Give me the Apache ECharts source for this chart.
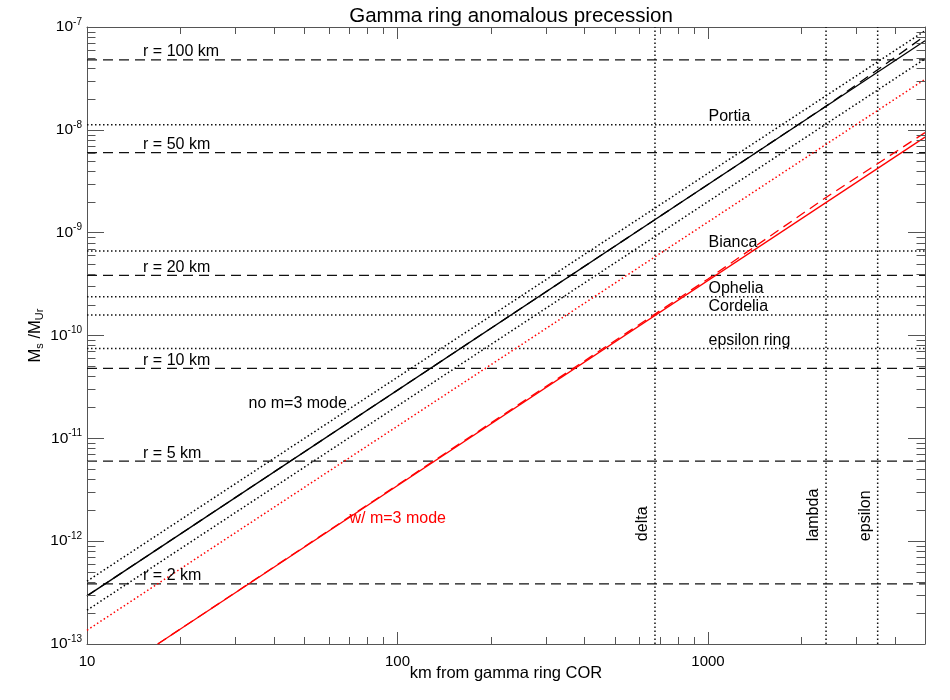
<!DOCTYPE html>
<html>
<head>
<meta charset="utf-8">
<style>
  html, body { margin: 0; padding: 0; background: #fff; }
  #chart { width: 950px; height: 700px; }
</style>
<script src="https://cdn.jsdelivr.net/npm/echarts@6/dist/echarts.min.js"></script>
</head>
<body>
<div id="chart"></div>
<script>
// axis extents
const xRange = [10, 5000]
const yRange = [1e-13, 1e-7]

// no m=3 mode curves (black)
const noModeX = [10, 5000]
const noModeSolid = [2.94e-13, 7.35e-8]
const noModeHigh = [4.08e-13, 9.2e-8]
const noModeLow = [2.13e-13, 4.9e-8]
const noModeDashX = [10, 1000, 2400, 3500, 5000]
const noModeDash = [2.94e-13, 2.94e-9, 1.7e-8, 3.8e-8, 8.2e-8]

// w/ m=3 mode curves (red)
const modeX = [16.9, 5000]
const modeSolid = [1e-13, 8.5e-9]
const modeDotX = [10, 5000]
const modeDot = [1.36e-13, 3.1e-8]
const modeDashX = [16.9, 1000, 2400, 5000]
const modeDash = [1e-13, 3.55e-10, 2.2e-9, 9.4e-9]

// moonlet radius levels (dashed)
const radiusNames = ['r = 100 km', 'r = 50 km', 'r = 20 km', 'r = 10 km', 'r = 5 km', 'r = 2 km']
const radiusMass = [4.8e-8, 6.0e-9, 3.85e-10, 4.8e-11, 6.0e-12, 3.85e-13]

// satellites / rings (dotted horizontal)
const moonNames = ['Portia', 'Bianca', 'Ophelia', 'Cordelia', 'epsilon ring']
const moonMass = [1.12e-8, 6.62e-10, 2.38e-10, 1.58e-10, 7.48e-11]

// ring distances (dotted vertical)
const ringNames = ['delta', 'lambda', 'epsilon']
const ringDist = [675, 2400, 3520]

const FONT = 'Liberation Sans'
const AXIS = '#555'

function pairs(xs, ys) {
  return xs.map((x, i) => [x, ys[i]])
}

// 2..9 x 10^n between lo and hi
function minorValues(lo, hi) {
  const out = []
  const e0 = Math.floor(Math.log10(lo))
  const e1 = Math.ceil(Math.log10(hi))
  for (let e = e0; e <= e1; e++) {
    for (let m = 2; m <= 9; m++) {
      const v = m * Math.pow(10, e)
      if (v > lo * 1.0001 && v < hi * 0.9999) out.push(v)
    }
  }
  return out
}

function curve(name, data, color, type, width) {
  return {
    name: name,
    type: 'line',
    data: data,
    showSymbol: false,
    symbol: 'none',
    clip: true,
    lineStyle: { color: color, width: width || 1.3, type: type },
    z: 3
  }
}

const DASH = [10, 6]
const DOT = [1.5, 2.5]

const series = []

// horizontal radius lines
radiusMass.forEach((v, i) => {
  series.push(curve(radiusNames[i], pairs(xRange, [v, v]), '#111', DASH))
})
// horizontal satellite lines
moonMass.forEach((v, i) => {
  series.push(curve(moonNames[i], pairs(xRange, [v, v]), '#111', DOT, 1.5))
})
// vertical ring lines
ringDist.forEach((d, i) => {
  series.push(curve(ringNames[i], pairs([d, d], yRange), '#111', DOT, 1.5))
})

// curves
series.push(curve('no m=3 high', pairs(noModeX, noModeHigh), '#000', DOT, 1.5))
series.push(curve('no m=3 low', pairs(noModeX, noModeLow), '#000', DOT, 1.5))
series.push(curve('no m=3 mode', pairs(noModeX, noModeSolid), '#000', 'solid'))
series.push(curve('no m=3 dash', pairs(noModeDashX, noModeDash), '#000', DASH))
series.push(curve('m=3 dot', pairs(modeDotX, modeDot), '#ff0000', DOT, 1.5))
series.push(curve('w/ m=3 mode', pairs(modeX, modeSolid), '#ff0000', 'solid'))
series.push(curve('m=3 dash', pairs(modeDashX, modeDash), '#ff0000', DASH))

// text annotations anchored in data space
const labelStyle = { fontFamily: FONT, fontSize: 16, color: '#000', opacity: 1, textBorderWidth: 0 }
function textSeries(items) {
  return {
    type: 'scatter',
    symbolSize: 1,
    itemStyle: { color: 'transparent' },
    silent: true,
    z: 5,
    data: items
  }
}

const radiusLabels = radiusMass.map((v, i) => ({
  value: [15.1, v],
  label: { show: true, formatter: radiusNames[i], position: 'right', distance: 0, offset: [0, -8], ...labelStyle }
}))
const moonLabels = moonMass.map((v, i) => ({
  value: [1000, v],
  label: { show: true, formatter: moonNames[i], position: 'right', distance: 0, offset: [0, -8], ...labelStyle }
}))
const ringLabels = ringDist.map((d, i) => ({
  value: [d, 1e-12],
  label: { show: true, formatter: ringNames[i], position: 'inside', rotate: 90, align: 'left', verticalAlign: 'middle', offset: [0, -12], ...labelStyle }
}))
const curveLabels = [
  { value: [33, 2.2e-11], label: { show: true, formatter: 'no m=3 mode', position: 'right', distance: 0, ...labelStyle } },
  { value: [69.8, 1.64e-12], label: { show: true, formatter: 'w/ m=3 mode', position: 'right', distance: 0, ...labelStyle, color: '#ff0000' } }
]
series.push(textSeries(radiusLabels.concat(moonLabels, ringLabels, curveLabels)))

// minor ticks on all four sides
const X_MINOR = 7
const Y_MINOR = 8.5
series.push({
  type: 'custom',
  silent: true,
  z: 6,
  data: minorValues(xRange[0], xRange[1]).map(v => [v, yRange[0]]),
  renderItem(params, api) {
    const cs = params.coordSys
    const x = Math.round(api.coord([api.value(0), yRange[0]])[0]) + 0.5
    const top = cs.y
    const bottom = cs.y + cs.height
    const st = { stroke: AXIS, lineWidth: 1 }
    return {
      type: 'group',
      children: [
        { type: 'line', shape: { x1: x, y1: bottom, x2: x, y2: bottom - X_MINOR }, style: st },
        { type: 'line', shape: { x1: x, y1: top, x2: x, y2: top + X_MINOR }, style: st }
      ]
    }
  }
})
series.push({
  type: 'custom',
  silent: true,
  z: 6,
  data: minorValues(yRange[0], yRange[1]).map(v => [xRange[0], v]),
  renderItem(params, api) {
    const cs = params.coordSys
    const y = Math.round(api.coord([xRange[0], api.value(1)])[1]) + 0.5
    const left = cs.x
    const right = cs.x + cs.width
    const st = { stroke: AXIS, lineWidth: 1 }
    return {
      type: 'group',
      children: [
        { type: 'line', shape: { x1: left, y1: y, x2: left + Y_MINOR, y2: y }, style: st },
        { type: 'line', shape: { x1: right, y1: y, x2: right - Y_MINOR, y2: y }, style: st }
      ]
    }
  }
})

function xAxisCfg(pos, showLabel) {
  return {
    type: 'log',
    logBase: 10,
    position: pos,
    min: xRange[0],
    max: xRange[1],
    name: showLabel ? 'km from gamma ring COR' : '',
    nameLocation: 'middle',
    nameGap: 21,
    nameMoveOverlap: false,
    nameTextStyle: { fontFamily: FONT, fontSize: 16.5, color: '#000' },
    axisLine: { show: true, onZero: false, lineStyle: { color: AXIS, width: 1 } },
    axisTick: { show: true, inside: true, length: 12, lineStyle: { color: AXIS } },
    axisLabel: {
      show: showLabel,
      margin: 10,
      fontFamily: FONT,
      fontSize: 15,
      color: '#000',
      showMinLabel: true,
      showMaxLabel: false,
      formatter: v => String(Math.round(v))
    },
    splitLine: { show: false },
    minorTick: { show: false }
  }
}

function yAxisCfg(pos, showLabel) {
  return {
    type: 'log',
    logBase: 10,
    position: pos,
    min: yRange[0],
    max: yRange[1],
    name: showLabel ? '{m|M}{s|s}{m| /M}{s|Ur}' : '',
    nameLocation: 'middle',
    nameGap: 42,
    nameRotate: 90,
    nameMoveOverlap: false,
    nameTextStyle: {
      fontFamily: FONT,
      color: '#000',
      rich: {
        m: { fontFamily: FONT, fontSize: 16.5, lineHeight: 20, color: '#000' },
        s: { fontFamily: FONT, fontSize: 11, lineHeight: 11, verticalAlign: 'bottom', color: '#000' }
      }
    },
    axisLine: { show: true, onZero: false, lineStyle: { color: AXIS, width: 1 } },
    axisTick: { show: true, inside: true, length: 17, lineStyle: { color: AXIS } },
    axisLabel: {
      show: showLabel,
      margin: 5,
      fontFamily: FONT,
      fontSize: 15,
      color: '#000',
      formatter: v => '{b|10}{e|' + Math.round(Math.log10(v)) + '}',
      rich: {
        b: { fontFamily: FONT, fontSize: 15.5, lineHeight: 20, color: '#000' },
        e: { fontFamily: FONT, fontSize: 10, lineHeight: 10, verticalAlign: 'top', color: '#000' }
      }
    },
    splitLine: { show: false },
    minorTick: { show: false }
  }
}

const chart = echarts.init(document.getElementById('chart'), null, { renderer: 'canvas' })
chart.setOption({
  animation: false,
  backgroundColor: '#fff',
  title: {
    text: 'Gamma ring anomalous precession',
    left: 506,
    textAlign: 'center',
    top: 1,
    textStyle: { fontFamily: FONT, fontSize: 20.5, fontWeight: 'normal', color: '#000' }
  },
  grid: { left: 87, right: 25, top: 27, bottom: 56, containLabel: false, outerBoundsMode: 'none' },
  xAxis: [xAxisCfg('bottom', true), xAxisCfg('top', false)],
  yAxis: [yAxisCfg('left', true), yAxisCfg('right', false)],
  series: series
})
</script>
</body>
</html>
